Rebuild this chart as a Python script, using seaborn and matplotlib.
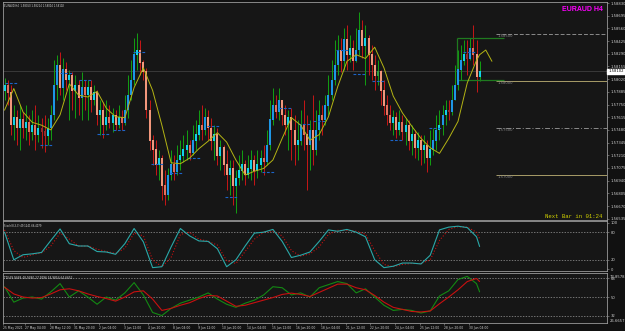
import numpy as np
import pandas as pd
import matplotlib
matplotlib.use("Agg")
import matplotlib.pyplot as plt
import seaborn as sns

# ---------------- data ----------------
first_open = 1.5790
closes = [
    1.5796, 1.5788, 1.5753, 1.5761, 1.5750, 1.5759, 1.5750, 1.5756, 1.5746, 1.5753, 1.5743, 1.5750, 1.5746, 1.5742, 1.5750,
    1.5764, 1.5796, 1.5817, 1.5793, 1.5812, 1.5801,
    1.5806, 1.5790, 1.5796, 1.5782, 1.5793, 1.5785, 1.5793, 1.5780, 1.5788,
    1.5764, 1.5769, 1.5753, 1.5761, 1.5756, 1.5764, 1.5753, 1.5761, 1.5756,
    1.5769, 1.5785, 1.5801, 1.5828, 1.5833, 1.5820, 1.5810,
    1.5769, 1.5737, 1.5727, 1.5711, 1.5718, 1.5689, 1.5679, 1.5700,
    1.5711, 1.5703, 1.5716, 1.5721, 1.5727, 1.5732, 1.5724, 1.5737, 1.5743, 1.5753, 1.5748, 1.5761, 1.5750,
    1.5737, 1.5743, 1.5721, 1.5729, 1.5711, 1.5700, 1.5707, 1.5689, 1.5697, 1.5705, 1.5711, 1.5700, 1.5707, 1.5716, 1.5705, 1.5711, 1.5718, 1.5714,
    1.5732, 1.5759, 1.5774, 1.5767, 1.5780, 1.5764, 1.5753, 1.5761, 1.5748, 1.5732, 1.5737, 1.5753, 1.5743, 1.5732, 1.5748, 1.5727, 1.5748,
    1.5764, 1.5759, 1.5774, 1.5785, 1.5801, 1.5817, 1.5833, 1.5822, 1.5844, 1.5828, 1.5835, 1.5822, 1.5833, 1.5854, 1.5838, 1.5846,
    1.5828, 1.5817, 1.5806, 1.5810, 1.5790, 1.5774, 1.5764, 1.5756, 1.5761, 1.5748, 1.5756, 1.5746, 1.5753, 1.5737, 1.5743, 1.5729, 1.5737, 1.5727, 1.5732, 1.5718, 1.5727, 1.5737,
    1.5748, 1.5753, 1.5764, 1.5769, 1.5767, 1.5780, 1.5796, 1.5812, 1.5822, 1.5828, 1.5824, 1.5835, 1.5828, 1.5805, 1.5810,
]
highs = [
    1.5803, 1.5801, 1.5796, 1.5774, 1.5769, 1.5774, 1.5767, 1.5774, 1.5764, 1.5769, 1.5774, 1.5764, 1.5761, 1.5764, 1.5761,
    1.5774, 1.5822, 1.5828, 1.5831, 1.5824, 1.5820,
    1.5812, 1.5810, 1.5806, 1.5801, 1.5810, 1.5801, 1.5801, 1.5801, 1.5796,
    1.5790, 1.5780, 1.5778, 1.5780, 1.5774, 1.5771, 1.5769, 1.5774, 1.5769,
    1.5785, 1.5806, 1.5822, 1.5846, 1.5851, 1.5844, 1.5822,
    1.5814, 1.5780, 1.5743, 1.5737, 1.5727, 1.5721, 1.5705, 1.5707,
    1.5727, 1.5721, 1.5732, 1.5737, 1.5743, 1.5748, 1.5737, 1.5753, 1.5759, 1.5769, 1.5774, 1.5771, 1.5769,
    1.5761, 1.5753, 1.5750, 1.5737, 1.5732, 1.5727, 1.5716, 1.5716, 1.5705, 1.5721, 1.5727, 1.5716, 1.5721, 1.5727, 1.5721, 1.5727, 1.5727, 1.5732,
    1.5748, 1.5780, 1.5793, 1.5785, 1.5793, 1.5780, 1.5774, 1.5769, 1.5771, 1.5764, 1.5759, 1.5769, 1.5780, 1.5764, 1.5759, 1.5785, 1.5769,
    1.5780, 1.5774, 1.5785, 1.5806, 1.5822, 1.5844, 1.5849, 1.5846, 1.5856, 1.5860, 1.5849, 1.5844, 1.5856, 1.5873, 1.5865, 1.5860,
    1.5849, 1.5838, 1.5828, 1.5822, 1.5812, 1.5801, 1.5785, 1.5774, 1.5769, 1.5767, 1.5769, 1.5764, 1.5761, 1.5759, 1.5753, 1.5748, 1.5746, 1.5743, 1.5743, 1.5737, 1.5748, 1.5750,
    1.5764, 1.5769, 1.5774, 1.5780, 1.5780, 1.5796, 1.5817, 1.5833, 1.5838, 1.5844, 1.5844, 1.5846, 1.5860, 1.5844, 1.5821,
]
lows = [
    1.5780, 1.5774, 1.5743, 1.5737, 1.5732, 1.5727, 1.5739, 1.5737, 1.5732, 1.5737, 1.5727, 1.5735, 1.5729, 1.5724, 1.5732,
    1.5737, 1.5759, 1.5780, 1.5785, 1.5780, 1.5790,
    1.5759, 1.5769, 1.5761, 1.5764, 1.5759, 1.5769, 1.5759, 1.5767, 1.5774,
    1.5753, 1.5743, 1.5739, 1.5748, 1.5750, 1.5746, 1.5748, 1.5750, 1.5748,
    1.5753, 1.5761, 1.5780, 1.5796, 1.5812, 1.5806, 1.5801,
    1.5761, 1.5727, 1.5711, 1.5700, 1.5695, 1.5673, 1.5668, 1.5673,
    1.5695, 1.5695, 1.5700, 1.5705, 1.5714, 1.5716, 1.5716, 1.5721, 1.5727, 1.5737, 1.5737, 1.5743, 1.5737,
    1.5727, 1.5716, 1.5711, 1.5705, 1.5700, 1.5684, 1.5679, 1.5668, 1.5660, 1.5689, 1.5695, 1.5689, 1.5697, 1.5695, 1.5689, 1.5697, 1.5703, 1.5700,
    1.5711, 1.5727, 1.5753, 1.5761, 1.5759, 1.5753, 1.5743, 1.5727, 1.5716, 1.5711, 1.5716, 1.5732, 1.5727, 1.5684, 1.5705, 1.5711, 1.5721,
    1.5737, 1.5743, 1.5753, 1.5764, 1.5780, 1.5796, 1.5806, 1.5810, 1.5812, 1.5812, 1.5820, 1.5812, 1.5820, 1.5828, 1.5824, 1.5796,
    1.5806, 1.5801, 1.5790, 1.5796, 1.5774, 1.5764, 1.5753, 1.5748, 1.5743, 1.5739, 1.5743, 1.5737, 1.5732, 1.5727, 1.5721, 1.5718, 1.5716, 1.5711, 1.5713, 1.5703, 1.5711, 1.5721,
    1.5727, 1.5737, 1.5743, 1.5753, 1.5759, 1.5764, 1.5780, 1.5790, 1.5801, 1.5817, 1.5806, 1.5822, 1.5817, 1.5788, 1.5800,
]

# moving average (read every 3 bars, plus its forward-shifted tail)
ma_values = [
    1.5769, 1.5792, 1.5767, 1.5756, 1.5753, 1.5748, 1.5764, 1.5797, 1.5785, 1.5783,
    1.5789, 1.5771, 1.5762, 1.5761, 1.5793, 1.5814, 1.5790, 1.5753, 1.5713, 1.5712,
    1.5718, 1.5728, 1.5736, 1.5745, 1.5735, 1.5716, 1.5700, 1.5704, 1.5707, 1.5716,
    1.5739, 1.5761, 1.5753, 1.5737, 1.5743, 1.5762, 1.5794, 1.5821, 1.5828, 1.5824,
    1.5836, 1.5814, 1.5784, 1.5766, 1.5752, 1.5739, 1.5729, 1.5723, 1.5739, 1.5757,
    1.5798, 1.5822, 1.5828, 1.5833, 1.5821,
]
stoch_k = [80, 20, 31, 33, 36, 62, 87, 55, 50, 50, 38, 37, 32, 55, 88, 59, 3, 5, 48, 88,
           72, 61, 60, 44, 5, 20, 50, 78, 80, 86, 60, 25, 30, 37, 60, 85, 82, 86, 80, 70,
           20, 3, 6, 13, 13, 11, 30, 85, 91, 93, 90, 70, 49]
stoch_d = [85, 40, 25, 31, 35, 50, 78, 65, 50, 50, 43, 38, 34, 45, 78, 72, 20, 5, 25, 75,
           80, 65, 60, 52, 18, 12, 38, 65, 80, 82, 72, 40, 28, 33, 48, 75, 84, 84, 82, 76,
           40, 10, 5, 10, 12, 12, 20, 62, 86, 92, 91, 80, 66]
tdi_green = [60, 45, 49, 50, 48, 55, 63, 50, 56, 50, 43, 50, 47, 54, 64, 52, 35, 32, 39, 44,
             47, 50, 54, 48, 43, 40, 44, 47, 52, 60, 59, 52, 54, 50, 59, 62, 65, 63, 54, 58,
             50, 42, 37, 38, 37, 34.5, 36.5, 51, 56, 67, 70, 63, 55]
tdi_red = [59.5, 53, 50, 49, 49.5, 53, 57, 58, 56, 53, 50.5, 48.5, 46, 50, 55, 56, 48, 37, 39, 42,
           44.5, 48.5, 51.5, 51, 46, 41, 42, 44.5, 47, 49.5, 52.5, 53.8, 52.5, 50.5, 54.5, 58.5, 62.5, 62.5, 59, 57,
           51.5, 45, 40, 38, 36, 35.5, 36.5, 43.5, 50, 57, 65, 68, 65]

fractal_bars = [0, 11.5, 18, 24, 30, 35, 41.5, 47.5, 53.5, 59.5, 65.5, 71.5, 83.5, 89, 95, 100, 107.5, 113, 119, 125, 137.5, 148.5]
fractal_prices = [1.5798, 1.5732, 1.5809, 1.5801, 1.5744, 1.5748, 1.5831, 1.5712, 1.5702, 1.5718, 1.5752,
                  1.5677, 1.5703, 1.5771, 1.5754, 1.5757, 1.5833, 1.5807, 1.5800, 1.5737, 1.5750, 1.5831]

price_ticks = [1.58830, 1.58695, 1.58560, 1.58425, 1.58290, 1.58155, 1.58020, 1.57885, 1.57750,
               1.57615, 1.57480, 1.57345, 1.57210, 1.57075, 1.56940, 1.56805, 1.56670, 1.56535]
date_labels = ["25 May 2021", "27 May 04:00", "28 May 12:00", "31 May 20:00", "2 Jun 04:00",
               "3 Jun 12:00", "4 Jun 20:00", "8 Jun 04:00", "9 Jun 12:00", "10 Jun 20:00",
               "14 Jun 04:00", "15 Jun 12:00", "16 Jun 20:00", "18 Jun 04:00", "21 Jun 12:00",
               "22 Jun 20:00", "24 Jun 04:00", "25 Jun 12:00", "28 Jun 20:00", "30 Jun 04:00"]
level_prices = [1.5850, 1.5800, 1.5750, 1.5700]
level_labels = ["1.58500", "1.58000", "1.57500", "1.57000"]
current_price = 1.58102
box_top, box_bottom = 1.5846, 1.5801
box_start, box_end = 146.8, 162.0
level_start = 159.4

# ---------------- style ----------------
sns.set_theme(style="dark", rc={"axes.facecolor": "#161616", "figure.facecolor": "#111111",
                                "axes.edgecolor": "#9a9a9a", "axes.grid": False})
plt.rcParams["font.family"] = ["DejaVu Sans"]

n = len(closes)
idx = np.arange(n)
opens = [first_open] + closes[:-1]
df = pd.DataFrame({"i": idx, "open": opens, "close": closes, "high": highs, "low": lows})
df["bull"] = df["close"] >= df["open"]
df["size"] = (df["close"] - df["open"]).abs()

def body_color(row):
    if row["bull"]:
        if row["size"] >= 0.0010:
            return "#1e96e6"
        if row["size"] >= 0.0004:
            return "#12d2ea"
        return "#2f9e3f"
    if row["size"] >= 0.0010:
        return "#f2977c"
    if row["size"] >= 0.0004:
        return "#e2705c"
    return "#962b2b"

df["body_col"] = df.apply(body_color, axis=1)
df["wick_col"] = np.where(df["bull"], "#12a012", "#c81616")
df["b_lo"] = df[["open", "close"]].min(axis=1) - 0.00003
df["b_hi"] = df[["open", "close"]].max(axis=1) + 0.00003

ind_idx = list(range(0, 154, 3)) + [154]
ma_idx = ind_idx + [156, 158]

W, H = 625, 331
fig = plt.figure(figsize=(W / 100, H / 100), dpi=100)
fig.patch.set_facecolor("#111111")
left, width = 3 / W, 604 / W
ax = fig.add_axes([left, 1 - 220 / H, width, 218 / H])
ax_s = fig.add_axes([left, 1 - 271 / H, width, 50 / H])
ax_t = fig.add_axes([left, 1 - 323 / H, width, 50 / H])
XL = (-0.5, 195.3)

for a in (ax, ax_s, ax_t):
    a.set_facecolor("#161616")
    a.set_xlim(*XL)
    for s in a.spines.values():
        s.set_color("#9a9a9a")
        s.set_linewidth(0.6)
    a.yaxis.tick_right()
    a.tick_params(axis="y", labelsize=2.7, colors="#9a9a9a", labelcolor="#d0d0d0",
                  length=1.5, width=0.4, pad=1, right=True, left=False)
    a.set_xlabel("")
    a.set_ylabel("")

# ---------------- main price panel ----------------
ax.set_ylim(1.565212, 1.58841)
ax.axhline(current_price, color="#3a3a3a", lw=0.7, zorder=1)
ax.vlines(df["i"], df["low"], df["high"], colors=df["wick_col"], linewidth=0.7, zorder=2)
ax.vlines(df["i"], df["b_lo"], df["b_hi"], colors=df["body_col"], linewidth=1.45, zorder=3)
for b, p in zip(fractal_bars, fractal_prices):
    ax.hlines(p, b, b + 4, colors="#1c64c8", linestyles=(0, (2.5, 1.5)), lw=0.8, zorder=4)
sns.lineplot(x=ma_idx, y=ma_values, ax=ax, color="#b4b414", linewidth=0.7, legend=False, zorder=5)

level_styles = [("#8a8a8a", (0, (4, 2))), ("#a89d68", "solid"), ("#8a8a8a", (0, (5, 2, 1, 2))), ("#a89d68", "solid")]
for p, lab, (c, ls) in zip(level_prices, level_labels, level_styles):
    ax.hlines(p, level_start, XL[1], colors=c, linestyles=ls, lw=0.7, zorder=2)
    ax.text(level_start + 0.3, p - 0.00004, lab, fontsize=2.7, color="#8a8a8a", va="top", ha="left")
ax.hlines([box_top, box_bottom], box_start, box_end, colors="#1f7a1f", lw=0.9, zorder=2)
ax.vlines(box_start, box_bottom, box_top, colors="#1f7a1f", lw=0.9, zorder=2)

ax.set_yticks(price_ticks)
ax.set_yticklabels([f"{v:.5f}" for v in price_ticks])
ax.set_xticks([])
ax.text(1.002, current_price, f"{current_price:.5f}", transform=ax.get_yaxis_transform(),
        fontsize=2.7, color="black", va="center", ha="left",
        bbox=dict(facecolor="white", edgecolor="white", pad=0.6))
ax.text(0.002, 0.992, "EURAUD,H4  1.58050 1.58214 1.58004 1.58102", transform=ax.transAxes,
        fontsize=1.8, color="#d8d8d8", va="top", ha="left")
ax.text(0.993, 0.965, "EURAUD H4", transform=ax.transAxes, fontsize=5, color="#ff00ff",
        fontweight="bold", family=["Liberation Sans", "DejaVu Sans"], va="center", ha="right")
ax.text(0.993, 0.018, "Next Bar in 01:24", transform=ax.transAxes, fontsize=4.1, color="#d2d200",
        family=["Liberation Mono", "DejaVu Sans Mono"], va="center", ha="right")

# ---------------- stochastic ----------------
ax_s.set_ylim(-4.3, 104.3)
for lv in (80, 20):
    ax_s.axhline(lv, color="#9a9a9a", lw=0.5, linestyle=(0, (2, 2)))
sns.lineplot(x=ind_idx, y=stoch_d, ax=ax_s, color="#c41010", linewidth=0.8, linestyle=":", legend=False)
sns.lineplot(x=ind_idx, y=stoch_k, ax=ax_s, color="#2aa8a8", linewidth=0.8, legend=False)
ax_s.set_yticks([100, 80, 20, 0])
ax_s.set_yticklabels(["100", "80", "20", "0"])
ax_s.set_xticks([])
ax_s.set_xlabel("")
ax_s.set_ylabel("")
ax_s.text(0.002, 0.94, "Stoch(8,3,3) 49.1241 66.4079", transform=ax_s.transAxes,
          fontsize=1.8, color="#d8d8d8", va="top", ha="left")

# ---------------- TDI ----------------
ax_t.set_ylim(24.8, 73.3)
for lv in (68, 50, 32):
    ax_t.axhline(lv, color="#9a9a9a", lw=0.5, linestyle=(0, (2, 2)))
sns.lineplot(x=ind_idx, y=tdi_green, ax=ax_t, color="#138a13", linewidth=0.8, legend=False)
sns.lineplot(x=ind_idx, y=tdi_red, ax=ax_t, color="#c81010", linewidth=0.8, legend=False)
ax_t.set_yticks([68, 50, 32])
ax_t.set_yticklabels(["68", "50", "32"])
ax_t.set_ylabel("")
ax_t.text(1.004, 0.93, "73.8578", transform=ax_t.transAxes, fontsize=2.7, color="#d0d0d0", va="center", ha="left")
ax_t.text(1.004, 0.05, "26.6657", transform=ax_t.transAxes, fontsize=2.7, color="#d0d0d0", va="center", ha="left")
ax_t.text(0.002, 0.94, "TDI 69.9468 48.9380 27.9296 54.9854 64.6652", transform=ax_t.transAxes,
          fontsize=2.1, color="#d8d8d8", va="top", ha="left")

xt = [-0.5] + [8 * k - 1.4 for k in range(1, len(date_labels))]
ax_t.set_xticks(xt)
ax_t.set_xticklabels(date_labels)
ax_t.tick_params(axis="x", labelsize=2.15, colors="#9a9a9a", labelcolor="#d0d0d0",
                 length=1.5, width=0.4, pad=1, bottom=True)
for lbl in ax_t.get_xticklabels():
    lbl.set_horizontalalignment("left")
ax_t.set_xlabel("")

fig.savefig("out.png", dpi=100, facecolor=fig.get_facecolor())
